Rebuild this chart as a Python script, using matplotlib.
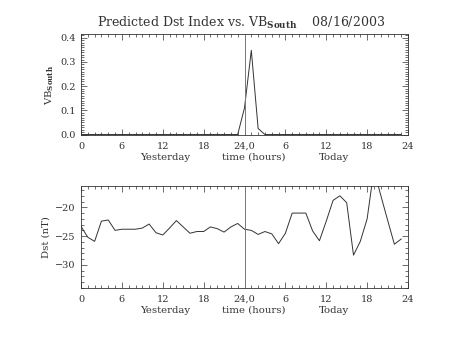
import numpy as np
import matplotlib
matplotlib.use('Agg')
from matplotlib import pyplot as plt
from matplotlib.ticker import MultipleLocator, FixedLocator, FixedFormatter
import matplotlib.transforms as mtransforms

plt.rcParams['font.family'] = 'DejaVu Serif'
plt.rcParams['mathtext.fontset'] = 'dejavuserif'
plt.rcParams['text.color'] = '#333333'
plt.rcParams['xtick.labelcolor'] = '#333333'
plt.rcParams['ytick.labelcolor'] = '#333333'
plt.rcParams['axes.labelcolor'] = '#333333'

# hourly values, yesterday 0-23 then today 0-23
hours = np.arange(48)
vb_south = [0.0] * 24 + [0.11, 0.348, 0.025] + [0.0] * 21
dst = [-23.3, -25.2, -25.9, -22.4, -22.2, -24.0, -23.8, -23.8, -23.8, -23.6,
       -22.9, -24.4, -24.8, -23.6, -22.3, -23.4, -24.5, -24.2, -24.2, -23.4,
       -23.7, -24.3, -23.4, -22.8,
       -23.8, -24.0, -24.7, -24.2, -24.6, -26.3, -24.5, -21.0, -21.0, -21.0,
       -24.1, -25.8, -22.4, -18.8, -18.0, -19.2, -28.3, -25.9, -22.0, -13.5,
       -17.9, -22.2, -26.4, -25.5]

tick_pos = [0, 6, 12, 18, 24, 30, 36, 42, 48]
tick_lab = ['0', '6', '12', '18', '24,0', '6', '12', '18', '24']
day_labels = [(12.4, 'Yesterday'), (25.3, 'time (hours)'), (37.2, 'Today')]

fig = plt.figure(figsize=(4.53, 3.40), dpi=100)
ax1 = fig.add_axes([81 / 453, 1 - 135 / 340, 327 / 453, 101 / 340])
ax2 = fig.add_axes([81 / 453, 1 - 288 / 340, 327 / 453, 102 / 340])


def style_axis(ax):
    ax.set_xlim(0, 48)
    ax.xaxis.set_major_locator(FixedLocator(tick_pos))
    ax.xaxis.set_major_formatter(FixedFormatter(tick_lab))
    ax.xaxis.set_minor_locator(MultipleLocator(1))
    ax.tick_params(which='both', direction='in', top=True, right=True,
                   labelsize=7, width=0.5, color='#333333')
    ax.tick_params(which='major', length=4.5)
    ax.tick_params(which='minor', length=2)
    ax.tick_params(axis='x', which='major', pad=5)
    ax.tick_params(axis='y', which='major', pad=4)
    for s in ax.spines.values():
        s.set_linewidth(0.6)
        s.set_color('#333333')
    ax.axvline(24, color='#777777', lw=0.7)
    tr = mtransforms.blended_transform_factory(ax.transData, ax.transAxes)
    for x, txt in day_labels:
        ax.text(x, -0.22, txt, transform=tr, ha='center', va='center',
                fontsize=7.3)


ax1.plot(hours, vb_south, color='#333333', lw=0.7)
ax1.set_ylim(-0.002, 0.4155)
ax1.yaxis.set_major_locator(MultipleLocator(0.1))
ax1.yaxis.set_minor_locator(MultipleLocator(0.01))
ax1.yaxis.set_major_formatter(plt.FormatStrFormatter('%.1f'))
ax1.set_ylabel(r'VB$_{\mathbf{South}}$', fontsize=7.3, labelpad=3)
style_axis(ax1)

ax2.plot(hours, dst, color='#333333', lw=0.7)
ax2.set_ylim(-34.0, -16.3)
ax2.yaxis.set_major_locator(MultipleLocator(5))
ax2.yaxis.set_minor_locator(MultipleLocator(1))
ax2.set_ylabel('Dst (nT)', fontsize=7.3, labelpad=3)
style_axis(ax2)

fig.text(241 / 453, 1 - 23 / 340,
         r'Predicted Dst Index vs. VB$_{\mathbf{South}}$    08/16/2003',
         ha='center', va='center', fontsize=9)

fig.savefig('out.png', dpi=100)
